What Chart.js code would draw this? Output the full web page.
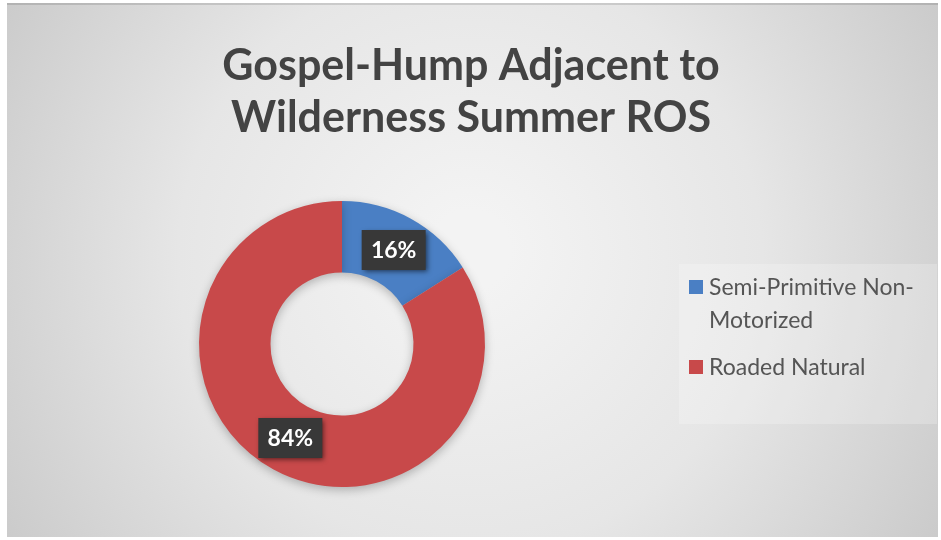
<!DOCTYPE html>
<html>
<head>
<meta charset="utf-8">
<script src="https://cdn.jsdelivr.net/npm/chart.js@4/dist/chart.umd.min.js"></script>
<style>
  html, body { margin: 0; padding: 0; background: #fff; }
  #wrap { width: 941px; height: 540px; position: relative; }
</style>
</head>
<body>
<div id="wrap"><canvas id="rosChart" width="941" height="540"></canvas></div>
<script>
// data
const titleLines = ['Gospel-Hump Adjacent to', 'Wilderness Summer ROS'];
const categories = ['Semi-Primitive Non-Motorized', 'Roaded Natural'];
const shares = [16, 84];
const sliceColors = ['#4a7fc4', '#c8494a'];

const titleGrey = '#434343';
const textGrey = '#555555';

// background panel with soft radial shading
const backgroundPanel = {
    id: 'backgroundPanel',
    beforeDraw(chart) {
        const ctx = chart.ctx;
        ctx.save();
        ctx.fillStyle = '#ffffff';
        ctx.fillRect(0, 0, chart.width, chart.height);
        const g = ctx.createRadialGradient(470, 250, 40, 470, 270, 600);
        g.addColorStop(0, '#f3f3f3');
        g.addColorStop(0.45, '#e6e6e6');
        g.addColorStop(1, '#c4c4c4');
        ctx.fillStyle = g;
        ctx.fillRect(7, 3, 931, 534);
        ctx.fillStyle = 'rgba(0,0,0,0.12)';
        ctx.fillRect(7, 3, 931, 2);
        ctx.restore();
    }
};

// soft shadow under the ring
const ringShadow = {
    id: 'ringShadow',
    beforeDatasetsDraw(chart) {
        const ctx = chart.ctx;
        ctx.save();
        ctx.shadowColor = 'rgba(0,0,0,0.25)';
        ctx.shadowBlur = 10;
        ctx.shadowOffsetY = 3;
    },
    afterDatasetsDraw(chart) {
        chart.ctx.restore();
    }
};

// two-line title at the top
const titleBlock = {
    id: 'titleBlock',
    afterDraw(chart) {
        const ctx = chart.ctx;
        ctx.save();
        ctx.fillStyle = titleGrey;
        ctx.font = 'bold 43px Lato';
        ctx.textAlign = 'center';
        ctx.textBaseline = 'alphabetic';
        titleLines.forEach((line, i) => {
            ctx.fillText(line, 471, 80 + i * 52);
        });
        ctx.restore();
    }
};

// percentage tags on each slice
const sliceTags = {
    id: 'sliceTags',
    afterDatasetsDraw(chart) {
        const ctx = chart.ctx;
        const meta = chart.getDatasetMeta(0);
        ctx.save();
        ctx.font = 'bold 23px Lato';
        ctx.textAlign = 'center';
        ctx.textBaseline = 'middle';
        meta.data.forEach((arc, i) => {
            const p = arc.getCenterPoint();
            const txt = shares[i] + '%';
            const w = 64, h = 40;
            ctx.save();
            ctx.shadowColor = 'rgba(0,0,0,0.55)';
            ctx.shadowBlur = 5;
            ctx.shadowOffsetX = 2;
            ctx.shadowOffsetY = 2;
            ctx.fillStyle = '#383838';
            ctx.fillRect(p.x - w / 2, p.y - h / 2, w, h);
            ctx.restore();
            ctx.fillStyle = '#ffffff';
            ctx.fillText(txt, p.x, p.y + 1);
        });
        ctx.restore();
    }
};

// legend box on the right, with wrapped labels
const sideLegend = {
    id: 'sideLegend',
    afterDraw(chart) {
        const ctx = chart.ctx;
        ctx.save();
        ctx.fillStyle = 'rgba(255,255,255,0.22)';
        ctx.fillRect(679, 264, 258, 160);
        ctx.font = '23px Lato';
        ctx.textBaseline = 'alphabetic';
        const maxW = 226;
        let y = 295;
        categories.forEach((name, i) => {
            // split after spaces and hyphens, then pack into lines
            const parts = name.match(/[^\s-]+-?\s*/g);
            const lines = [];
            let cur = '';
            parts.forEach(part => {
                const test = cur + part;
                if (cur && ctx.measureText(test.trim()).width > maxW) {
                    lines.push(cur.trim());
                    cur = part;
                } else {
                    cur = test;
                }
            });
            lines.push(cur.trim());
            ctx.fillStyle = sliceColors[i];
            ctx.fillRect(689, y - 15, 14, 14);
            ctx.fillStyle = textGrey;
            lines.forEach((ln, k) => {
                ctx.fillText(ln, 709, y + k * 33);
            });
            y += lines.length * 33 + 14;
        });
        ctx.restore();
    }
};

new Chart(document.getElementById('rosChart'), {
    type: 'doughnut',
    data: {
        labels: categories,
        datasets: [{
            data: shares,
            backgroundColor: sliceColors,
            borderWidth: 0,
            hoverOffset: 0
        }]
    },
    options: {
        responsive: false,
        animation: false,
        cutout: '50%',
        layout: {
            padding: { left: 199, right: 456, top: 201, bottom: 53 }
        },
        plugins: {
            legend: { display: false },
            title: { display: false },
            tooltip: { enabled: false }
        }
    },
    plugins: [backgroundPanel, ringShadow, sliceTags, titleBlock, sideLegend]
});
</script>
</body>
</html>
